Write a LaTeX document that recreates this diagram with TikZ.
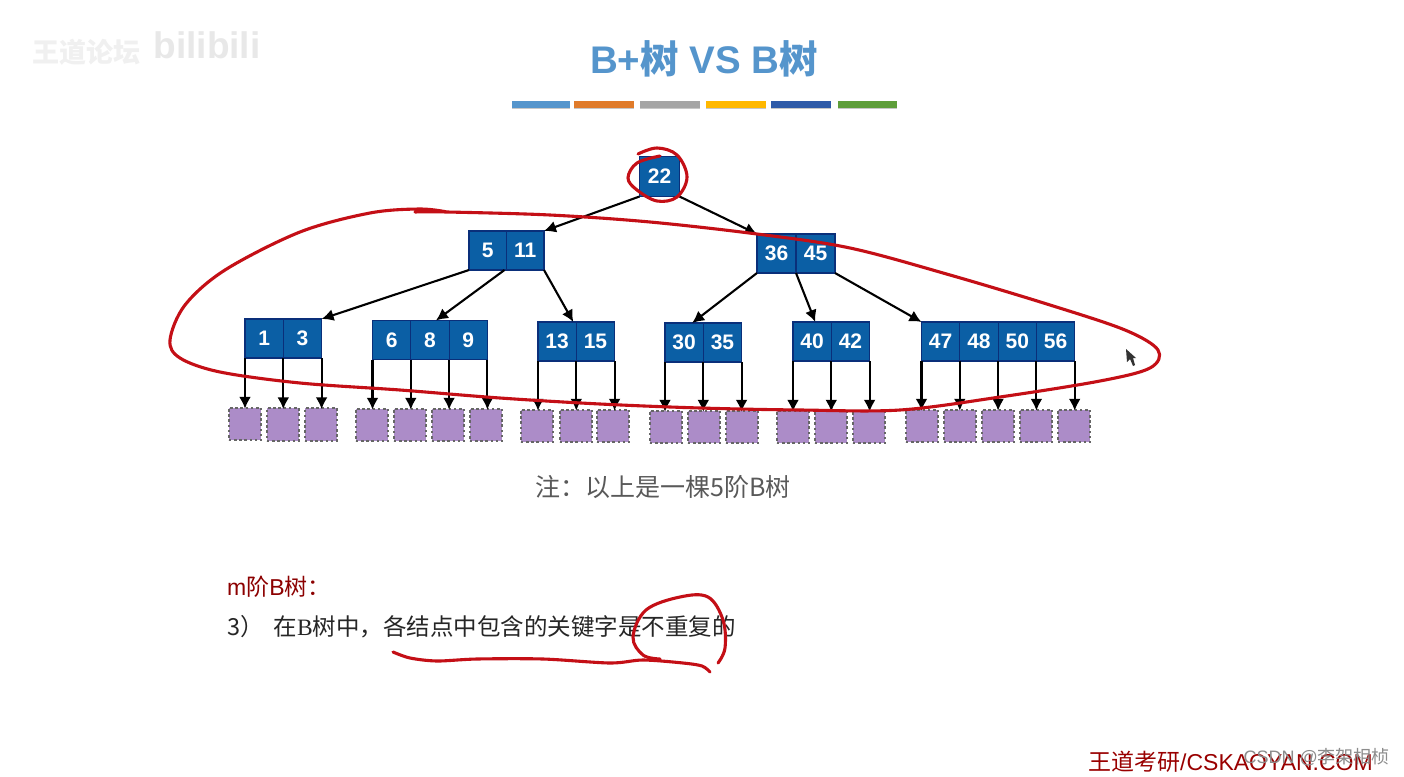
\documentclass[tikz,border=0pt]{standalone}
\usepackage{fontspec}
\setmainfont{Liberation Sans}
\newfontfamily\cjk{Noto Sans CJK SC}
\newfontfamily\serifb{Liberation Serif}
\usetikzlibrary{arrows.meta}
\definecolor{nodeblue}{HTML}{0B5FA5}
\definecolor{nodeedge}{HTML}{0A2F7A}
\definecolor{leaffill}{HTML}{AC8CC8}
\definecolor{inkred}{HTML}{C40F16}
\definecolor{titleblue}{HTML}{5595CC}
\definecolor{baro}{HTML}{E07B2A}
\definecolor{barg}{HTML}{A5A5A5}
\definecolor{bary}{HTML}{FFB800}
\definecolor{barb}{HTML}{2F5BA8}
\definecolor{barv}{HTML}{5E9E3A}
\tikzset{
 cell/.style={draw=nodeedge,fill=nodeblue,line width=1.1pt,outer sep=0pt,minimum height=39pt,minimum width=38.3pt,inner sep=0pt,text=white,font=\fontsize{21}{21}\selectfont\bfseries,anchor=north west},
 leaf/.style={draw=black!60,dash pattern=on 2.6pt off 2.6pt,line width=2.2pt,fill=leaffill,outer sep=0pt,minimum size=32.5pt,inner sep=0pt},
 arr/.style={-{Latex[length=12pt,width=12pt]},line width=2.1pt,black},
 ink/.style={draw=inkred,line width=3.1pt,line cap=round,line join=round},
 bar/.style={inner sep=0pt,outer sep=0pt,minimum height=7pt,preaction={fill=black!22,transform canvas={yshift=-1.6pt}}},
}
\begin{document}
\begin{tikzpicture}[x=1pt,y=-1pt]
\useasboundingbox (0,0) rectangle (1404,776);
\fill[white] (0,0) rectangle (1404,776);
% watermarks
\node[inner sep=0pt,text=black!6,font=\cjk\fontsize{27}{27}\selectfont\bfseries] (wmA) at (86,52) {王道论坛};
\node[inner sep=0pt,text=black!9,font=\fontsize{37}{37}\selectfont\bfseries] (wmB) at (207,45) {bilibili};
% title
\node[inner sep=0pt,text=titleblue,font=\fontsize{38.5}{38.5}\selectfont\bfseries] (title) at (704,59) {B+{\cjk 树} VS B{\cjk 树}};
\node[bar,fill=titleblue,minimum width=58pt] (b1) at (540.5,104) {};
\node[bar,fill=baro,minimum width=60pt] (b2) at (604,104) {};
\node[bar,fill=barg,minimum width=60pt] (b3) at (670,104) {};
\node[bar,fill=bary,minimum width=60pt] (b4) at (736,104) {};
\node[bar,fill=barb,minimum width=60pt] (b5) at (801,104) {};
\node[bar,fill=barv,minimum width=59pt] (b6) at (867,104) {};
% root
\node[cell,minimum width=40pt,minimum height=40pt] (r) at (639.5,156.5) {22};
% level 2
\node[cell,minimum width=37.5pt] (a1) at (469,231) {5};
\node[cell,minimum width=37.5pt] (a2) at (a1.north east) {11};
\node[cell,minimum width=39pt] (c1) at (757,234) {36};
\node[cell,minimum width=39pt] (c2) at (c1.north east) {45};
% level 3
\node[cell] (d1) at (245,319) {1};
\node[cell] (d2) at (d1.north east) {3};
\node[cell] (e1) at (372.5,320.5) {6};
\node[cell] (e2) at (e1.north east) {8};
\node[cell] (e3) at (e2.north east) {9};
\node[cell] (f1) at (538,322) {13};
\node[cell] (f2) at (f1.north east) {15};
\node[cell] (g1) at (665,323) {30};
\node[cell] (g2) at (g1.north east) {35};
\node[cell] (h1) at (793,322) {40};
\node[cell] (h2) at (h1.north east) {42};
\node[cell] (i1) at (921.5,322) {47};
\node[cell] (i2) at (i1.north east) {48};
\node[cell] (i3) at (i2.north east) {50};
\node[cell] (i4) at (i3.north east) {56};
% leaves
\foreach \n/\x/\y in {l1/245/424,l2/283/424.5,l3/321/424.5,
 l4/372/425,l5/410/425,l6/448/425,l7/486/425,
 l8/537/426,l9/576/426,l10/613/426,
 l11/666/427,l12/704/427,l13/742/427,
 l14/793/427,l15/831/427,l16/869/427,
 l17/922/426,l18/960/426,l19/998/426,l20/1036/426,l21/1074/426}
 \node[leaf] (\n) at (\x,\y) {};
% tree arrows
\draw[arr] (r.south west) -- (a2.north east);
\draw[arr] (r.south east) -- (c1.north west);
\draw[arr] (a1.south west) -- (d2.north east);
\draw[arr] ([xshift=-2pt]a1.south east) -- ([xshift=6pt]e2.north);
\draw[arr] (a2.south east) -- ([xshift=-3pt]f1.north east);
\draw[arr] (c1.south west) -- ([xshift=8pt]g1.north);
\draw[arr] (c1.south east) -- ([xshift=-16pt]h1.north east);
\draw[arr] (c2.south east) -- (i1.north west);
% child arrows
\foreach \s/\t in {d1.south west/l1,d1.south east/l2,d2.south east/l3,
 e1.south west/l4,e1.south east/l5,e2.south east/l6,e3.south east/l7,
 f1.south west/l8,f1.south east/l9,f2.south east/l10,
 g1.south west/l11,g1.south east/l12,g2.south east/l13,
 h1.south west/l14,h1.south east/l15,h2.south east/l16,
 i1.south west/l17,i1.south east/l18,i2.south east/l19,i3.south east/l20,i4.south east/l21}
 \draw[arr] (\s) -- ([yshift=-1pt]\s |- \t.north);
% notes
\node[inner sep=0pt,text=black!65,font=\cjk\fontsize{25}{25}\selectfont] (note) at (663,487) {注：以上是一棵5阶B树};
\node[inner sep=0pt,anchor=west,text=red!55!black,font=\fontsize{23}{23}\selectfont] (mb) at (227,587) {m{\cjk 阶}B{\cjk 树：}};
\node[inner sep=0pt,anchor=west,text=black!85,font=\cjk\fontsize{23.5}{23.5}\selectfont] (rule) at (227,627) {3）\hspace{10pt}在{\serifb B}树中，各结点中包含的关键字是不重复的};
\node[inner sep=0pt,anchor=west,text=red!60!black,font=\fontsize{23}{23}\selectfont] (foot) at (1088,762) {{\cjk 王道考研}/CSKAOYAN.COM};
\node[inner sep=0pt,anchor=east,text=black!45,font=\fontsize{18}{18}\selectfont] (csdn) at (1390,757) {CSDN @{\cjk 李架相桢}};
% ink
\draw[ink] plot[smooth,tension=0.55] coordinates {(415,212)(447,212)(550,215)(650,222)(757,234)(850,248)(950,275)(1050,305)(1125,330)(1158,350)(1150,368)(1100,381)(1000,397)(900,410)(800,410)(700,408)(600,404)(500,398)(400,390)(300,383)(220,372)(180,358)(170,340)(185,305)(225,270)(300,232)(370,213)(420,209)(447,212)};
\draw[ink] plot[smooth,tension=0.6] coordinates {(638,154)(657,148)(677,155)(687,177)(677,197)(657,201)(637,190)(628,178)(637,163)(660,156)};
\draw[ink] plot[smooth,tension=0.5] coordinates {(393,652)(410,658)(437,661)(477,659)(543,659)(610,663)(643,660)(683,663)(702,666)(710,672)};
\draw[ink] plot[smooth,tension=0.6] coordinates {(660,659)(643,655)(633,637)(646,610)(680,597)(708,597)(723,620)(725,648)(718,663)};
% cursor
\fill[black!80] (1126,349) -- (1127,362) -- (1130,359) -- (1133,366) -- (1135,365) -- (1133,358) -- (1136,358) -- cycle;
\end{tikzpicture}
\end{document}
